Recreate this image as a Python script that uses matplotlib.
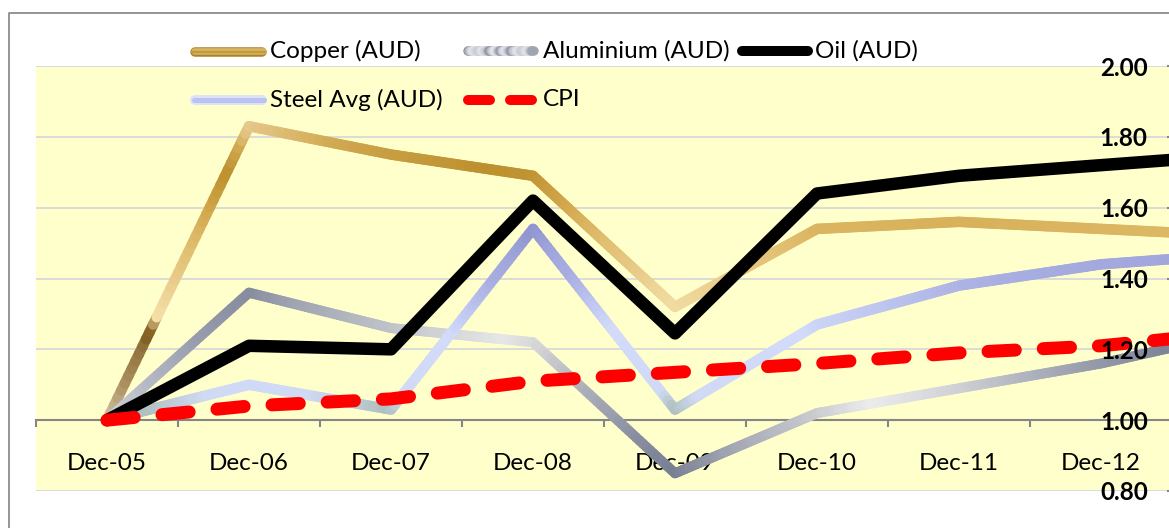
import numpy as np
import matplotlib
matplotlib.use("Agg")
import matplotlib.pyplot as plt
from matplotlib.collections import LineCollection
from matplotlib.colors import LinearSegmentedColormap, Normalize
from matplotlib.lines import Line2D

# ---------------- data ----------------
categories = ['Dec-05', 'Dec-06', 'Dec-07', 'Dec-08', 'Dec-09', 'Dec-10', 'Dec-11', 'Dec-12', 'Dec-13']
copper = [1.00, 1.83, 1.75, 1.69, 1.32, 1.54, 1.56, 1.54, 1.52]
aluminium = [1.00, 1.36, 1.26, 1.22, 0.85, 1.02, 1.09, 1.16, 1.25]
oil = [1.00, 1.21, 1.20, 1.62, 1.245, 1.64, 1.69, 1.72, 1.75]
steel = [1.00, 1.10, 1.03, 1.54, 1.03, 1.27, 1.38, 1.44, 1.47]
cpi = [1.00, 1.04, 1.06, 1.11, 1.135, 1.16, 1.19, 1.21, 1.25]
series_names = ['Copper (AUD)', 'Aluminium (AUD)', 'Oil (AUD)', 'Steel Avg (AUD)', 'CPI']
y_ticks = [0.80, 1.00, 1.20, 1.40, 1.60, 1.80, 2.00]

# ---------------- style ----------------
FONT = 'Lato'
W, H = 1169, 528
fig = plt.figure(figsize=(W / 100, H / 100), dpi=100)
fig.patch.set_facecolor('white')

def fx(px):
    return px / W

def fy(py):
    return 1 - py / H

PT = 72 / 100  # points per pixel

ax = fig.add_axes([fx(36), fy(491), fx(1172) - fx(36), fy(66) - fy(491)])
ax.set_facecolor('#FFFFCC')

xs = np.arange(len(categories))

# gradient stops (styles)
copper_stops = [(0.95, '#C8BC9E'), (1.03, '#C8B898'), (1.12, '#A88C5A'), (1.22, '#8E7038'),
                (1.255, '#7A5518'), (1.27, '#A08040'), (1.30, '#F5E0A8'), (1.40, '#EACD8C'),
                (1.50, '#E0BE70'), (1.59, '#D4AA50'), (1.71, '#BD902E'), (1.78, '#D0A850'),
                (1.85, '#EED4A0')]
steel_stops = [(0.95, '#A8B8B0'), (1.03, '#B0C0C0'), (1.07, '#D0DAF5'), (1.25, '#D2DBFA'),
               (1.33, '#BCC3EE'), (1.40, '#A9AEE2'), (1.48, '#9EA3DA'), (1.56, '#8A90CC')]
alu_stops = [(-0.1, '#D8DBE0'), (0.0, '#D0D3D8'), (0.6, '#9A9FB0'), (1.0, '#868C9E'),
             (1.3, '#9EA3B0'), (2.0, '#BFC2C8'), (2.45, '#D5D7DA'), (2.8, '#E6E6E6'),
             (3.0, '#DADADA'), (3.35, '#B0B3BC'), (3.75, '#888EA0'), (4.0, '#7A8094'),
             (4.45, '#A5A9B5'), (5.0, '#C8CACE'), (5.4, '#ECECEC'), (6.0, '#D0D2D6'),
             (6.5, '#B0B4BE'), (7.0, '#959AAA'), (7.5, '#7E8598'), (8.0, '#7A8094')]


def make_cmap(stops):
    lo, hi = stops[0][0], stops[-1][0]
    cm = LinearSegmentedColormap.from_list(
        'g', [((p - lo) / (hi - lo), c) for p, c in stops])
    return cm, Normalize(lo, hi)


def gradient_line(ax, x, y, stops, by, lw_px, z, n=40):
    cm, norm = make_cmap(stops)
    segs, vals = [], []
    for i in range(len(x) - 1):
        t = np.linspace(0, 1, n + 1)
        px = x[i] + (x[i + 1] - x[i]) * t
        py = y[i] + (y[i + 1] - y[i]) * t
        for j in range(n):
            segs.append([(px[j], py[j]), (px[j + 1], py[j + 1])])
            vals.append((py[j] + py[j + 1]) / 2 if by == 'y' else (px[j] + px[j + 1]) / 2)
    lc = LineCollection(segs, colors=cm(norm(np.array(vals))), linewidths=lw_px * PT,
                        capstyle='round', joinstyle='round', zorder=z)
    ax.add_collection(lc, autolim=False)


# gridlines
for v in y_ticks:
    ax.axhline(v, color='#D9D9D9', lw=1.3, zorder=1)

gradient_line(ax, xs, copper, copper_stops, 'y', 10.5, 3)
gradient_line(ax, xs, aluminium, alu_stops, 'x', 10, 4)
gradient_line(ax, xs, steel, steel_stops, 'y', 10.5, 5)
ax.plot(xs, oil, color='black', lw=12.5 * PT, solid_joinstyle='round',
        solid_capstyle='round', zorder=6)
ax.plot(xs, cpi, color='#FF0000', lw=13 * PT, dashes=(2.1, 2.15),
        dash_capstyle='round', zorder=7)

# axes styling
for s in ['top', 'left']:
    ax.spines[s].set_visible(False)
ax.spines['bottom'].set_position(('data', 1.0))
ax.spines['bottom'].set_color('#868686')
ax.spines['bottom'].set_linewidth(1.5)
ax.spines['bottom'].set_zorder(2)
ax.spines['right'].set_color('#868686')
ax.spines['right'].set_linewidth(1.5)

ax.set_xticks(xs)
ax.set_xticklabels(categories, fontfamily=FONT, fontsize=17.5, color='black')
ax.set_xticks(np.arange(-0.5, 8.0, 1.0), minor=True)
ax.tick_params(axis='x', which='major', length=0, pad=24)
ax.tick_params(axis='x', which='minor', length=7 * PT, width=1.5, color='#868686',
               direction='out')

ax.set_yticks(y_ticks)
ax.set_yticklabels(['%.2f' % v for v in y_ticks], fontfamily=FONT, fontsize=17.5,
                   fontweight='bold')
ax.yaxis.tick_right()
ax.tick_params(axis='y', which='major', direction='in', length=5 * PT, width=1.5,
               color='#868686', pad=-17.5)
for lbl in ax.get_yticklabels():
    lbl.set_horizontalalignment('right')
ax.xaxis.set_zorder(2.5)
ax.yaxis.set_zorder(10)   # value labels sit on top of the lines

# view limits set last so tick setting does not widen them
ax.set_xlim(-0.5, 7.5)
ax.set_ylim(0.80, 2.00)

# figure border
fig.add_artist(Line2D([fx(8.5), fx(8.5), fx(W + 5)], [fy(H + 5), fy(12.5), fy(12.5)],
                      transform=fig.transFigure, color='#8C8C8C', lw=1.3))

# ---------------- legend (manual) ----------------
def seg(x0, x1, yc, color, lw_px, z=20):
    r = lw_px / 2
    fig.add_artist(Line2D([fx(x0 + r), fx(x1 - r)], [fy(yc), fy(yc)],
                          transform=fig.transFigure, color=color, lw=lw_px * PT,
                          solid_capstyle='round', zorder=z))

# copper swatch: horizontal stripes
seg(190, 267, 51.5, '#A98228', 9.5)
seg(190.5, 266.5, 50.5, '#D9B663', 6.5, 21)
seg(191, 266, 51.5, '#C39A3E', 2.5, 22)
# aluminium swatch: repeating grey/light pattern along x
cm_a = LinearSegmentedColormap.from_list('a', ['#8A90A2', '#C7CAD2', '#E6E7EA', '#C7CAD2', '#8A90A2'])
xa = np.linspace(467.5, 533.5, 60)
phase = [0.0, 0.45, 0.75, 0.45, 0.0, 0.45, 1.0, 0.45, 0.0, 0.45, 0.75, 0.45, 0.0]
pcols = np.interp(np.linspace(0, 1, len(xa)), np.linspace(0, 1, len(phase)), phase)
for i in range(len(xa) - 1):
    fig.add_artist(Line2D([fx(xa[i]), fx(xa[i + 1])], [fy(51), fy(51)],
                          transform=fig.transFigure, color=cm_a(pcols[i]), lw=9.5 * PT,
                          solid_capstyle='round', zorder=20))
# oil
seg(737, 813, 50.5, 'black', 10)
# steel
seg(190, 267, 99.5, '#DCE2FA', 10)
seg(191, 266, 99.5, '#BCC3F0', 5, 21)
# cpi
seg(463, 495, 99.5, '#FF0000', 10)
seg(505, 537, 99.5, '#FF0000', 10)

legend_text = [(series_names[0], 270, 51), (series_names[1], 543, 51), (series_names[2], 815, 51),
               (series_names[3], 270, 100), (series_names[4], 543, 100)]
for name, x0, yc in legend_text:
    fig.text(fx(x0), fy(yc), name, fontfamily=FONT, fontsize=17.5, ha='left',
             va='center', color='black', zorder=25)

fig.savefig('out.png', dpi=100, facecolor='white')
